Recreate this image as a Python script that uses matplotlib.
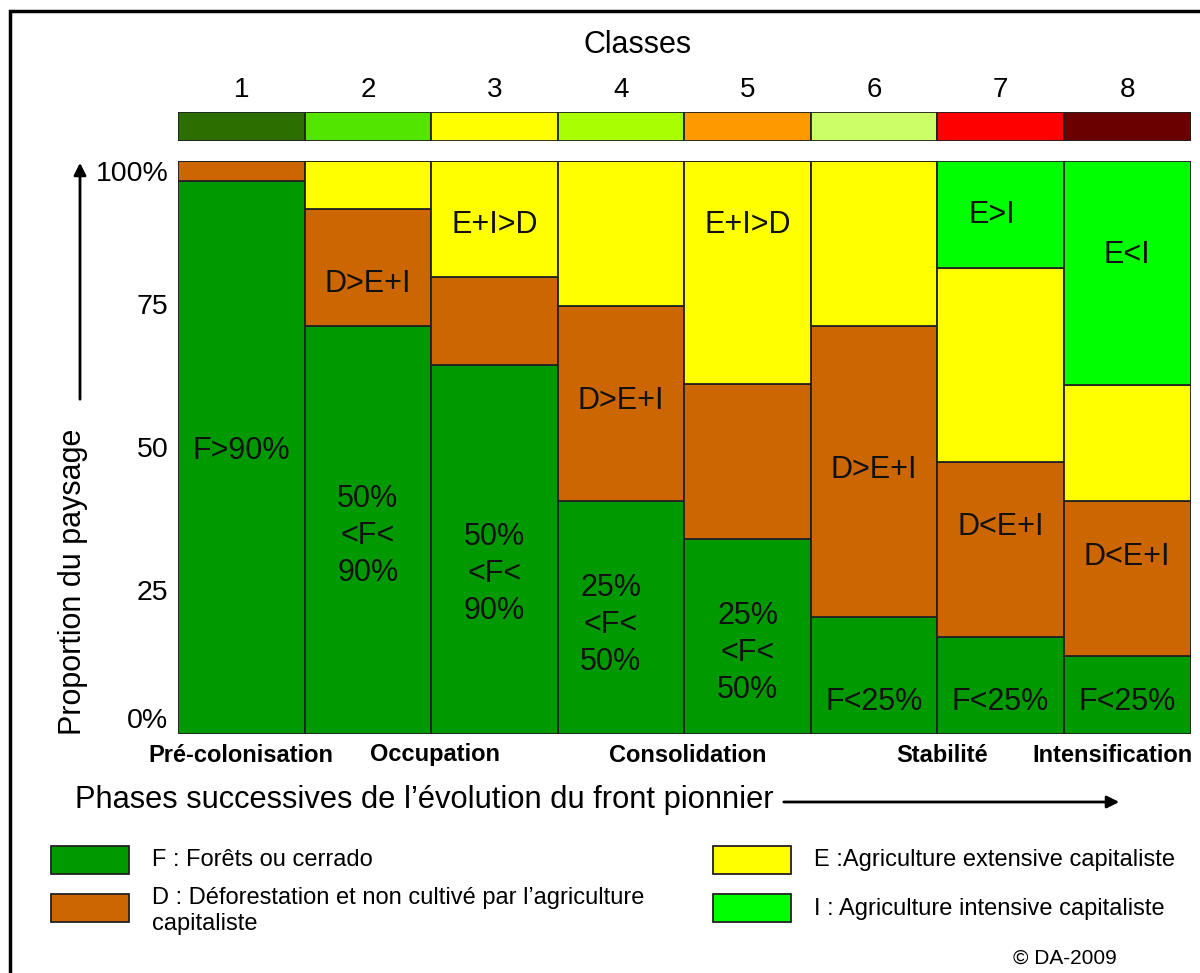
import matplotlib
matplotlib.use('Agg')
import matplotlib.pyplot as plt
from matplotlib.patches import Rectangle
from matplotlib.transforms import blended_transform_factory

plt.rcParams['font.family'] = ['Liberation Sans', 'DejaVu Sans']

# data (% of landscape per class)
classes = ['1', '2', '3', '4', '5', '6', '7', '8']
class_colors = ['#2d6e00', '#52e500', '#ffff00', '#a8ff00', '#ff9900', '#ccff66', '#ff0000', '#6b0000']
forest = [96.5, 71.1, 64.3, 40.6, 33.9, 20.4, 16.8, 13.5]
defor = [3.5, 20.4, 15.4, 34.0, 27.1, 50.7, 30.6, 27.1]
extensive = [0, 8.5, 20.3, 25.4, 39.0, 28.9, 33.9, 20.3]
intensive = [0, 0, 0, 0, 0, 0, 18.7, 39.1]

phases = ['Pré-colonisation', 'Occupation', 'Consolidation', 'Stabilité', 'Intensification']
phase_x = [0, 1.53, 3.53, 5.54, 6.88]

# (x, height, text) of the labels inside the boxes
box_labels = [
    (0, 49.4, 'F>90%'),
    (1, 78.5, 'D>E+I'), (1, 34.5, '50%\n<F<\n90%'),
    (2, 88.8, 'E+I>D'), (2, 27.9, '50%\n<F<\n90%'),
    (3, 58.1, 'D>E+I'), (2.92, 18.9, '25%\n<F<\n50%'),
    (4, 88.8, 'E+I>D'), (4, 14.1, '25%\n<F<\n50%'),
    (5, 46.1, 'D>E+I'), (5, 5.5, 'F<25%'),
    (5.93, 90.5, 'E>I'), (6, 36.0, 'D<E+I'), (6, 5.5, 'F<25%'),
    (7, 83.5, 'E<I'), (7, 30.9, 'D<E+I'), (7, 5.5, 'F<25%'),
]

col_F = '#009a00'
col_D = '#cc6600'
col_E = '#ffff00'
col_I = '#00ff00'
edge = '#222222'

fig = plt.figure(figsize=(12, 9.73), dpi=100)

# main stacked bars
ax = fig.add_axes([0.1483, 0.2460, 0.8438, 0.5888])
x = range(len(classes))
bottom = [0] * len(classes)
for vals, c in [(forest, col_F), (defor, col_D), (extensive, col_E), (intensive, col_I)]:
    ax.bar(x, vals, bottom=bottom, width=1, color=c, edgecolor=edge, linewidth=1.3)
    bottom = [b + v for b, v in zip(bottom, vals)]
ax.set_xlim(-0.5, 7.5)
ax.set_ylim(0, 100)
for s in ax.spines.values():
    s.set_visible(False)
ax.set_xticks([])
ax.set_yticks([0, 25, 50, 75, 100])
ax.set_yticklabels(['0%', '25', '50', '75', '100%'], fontsize=20.5)
ax.tick_params(axis='y', length=0, pad=7)
tl = ax.get_yticklabels()
tl[0].set_va('bottom')
tl[-1].set_va('top')

for xi, yi, t in box_labels:
    ax.text(xi, yi, t, ha='center', va='center', fontsize=22, color='#111111',
            linespacing=1.3)

# class colour strip
ax2 = fig.add_axes([0.1483, 0.8551, 0.8438, 0.0298])
ax2.bar(x, [1] * len(classes), width=1, color=class_colors, edgecolor=edge, linewidth=1.3)
ax2.set_xlim(-0.5, 7.5)
ax2.set_ylim(0, 1)
ax2.axis('off')
for xi, c in zip(x, classes):
    ax2.text(xi, 1.75, c, ha='center', va='center', fontsize=20)
fig.text(638 / 1200, 1 - 45 / 973, 'Classes', ha='center', va='center', fontsize=22)

# phase labels under the bars
tr = blended_transform_factory(ax.transData, fig.transFigure)
for px, p in zip(phase_x, phases):
    ax.text(px, 1 - 755 / 973, p, transform=tr, ha='center', va='center',
            fontsize=17, fontweight='bold')

fig.text(0.0625, 1 - 800 / 973, 'Phases successives de l\u2019évolution du front pionnier',
         ha='left', va='center', fontsize=22.2)
ax.annotate('', xy=(1122 / 1200, 1 - 802 / 973), xytext=(781 / 1200, 1 - 802 / 973),
            xycoords='figure fraction', textcoords='figure fraction',
            arrowprops=dict(arrowstyle='-|>', color='black', lw=2, mutation_scale=18))

# y label with arrow
fig.text(0.0608, 1 - 735 / 973, 'Proportion du paysage', rotation=90,
         ha='center', va='bottom', fontsize=22)
ax.annotate('', xy=(80 / 1200, 1 - 160 / 973), xytext=(80 / 1200, 1 - 402 / 973),
            xycoords='figure fraction', textcoords='figure fraction',
            arrowprops=dict(arrowstyle='-|>', color='black', lw=2, mutation_scale=18))

# legend: (patch left, patch top, text top, colour, text) in pixels
legend_items = [
    (51, 846, 849, col_F, 'F : Forêts ou cerrado'),
    (51, 894, 887, col_D, 'D : Déforestation et non cultivé par l\u2019agriculture\ncapitaliste'),
    (713, 846, 849, col_E, 'E :Agriculture extensive capitaliste'),
    (713, 894, 898, col_I, 'I : Agriculture intensive capitaliste'),
]
for lx, ly, ty, c, t in legend_items:
    fig.patches.append(Rectangle((lx / 1200, 1 - (ly + 28) / 973), 78 / 1200, 28 / 973,
                                 transform=fig.transFigure, facecolor=c, edgecolor=edge,
                                 linewidth=1.3))
    fig.text((lx + 101) / 1200, 1 - ty / 973, t, ha='left', va='top',
             fontsize=17, linespacing=1.22)

fig.text(1013 / 1200, 1 - 958 / 973, '© DA-2009', ha='left', va='center', fontsize=15)

# frame around the figure
fig.patches.append(Rectangle((10 / 1200, -0.1), 1.2, 1.1 - 11 / 973, transform=fig.transFigure,
                             fill=False, edgecolor='black', linewidth=2.5))

fig.savefig('out.png', dpi=100)
